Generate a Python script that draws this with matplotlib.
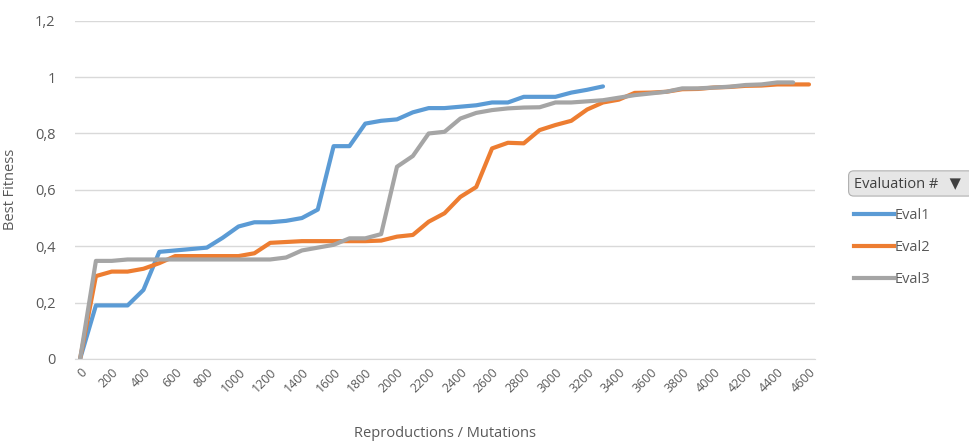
import matplotlib.pyplot as plt
from matplotlib.lines import Line2D

# x categories: 0..4600 step 100
steps = list(range(0, 4700, 100))
tick_labels = [str(s) for s in steps[::2]]

eval1 = [0, 0.19, 0.19, 0.19, 0.245, 0.38, 0.385, 0.39, 0.395, 0.43, 0.47, 0.485,
         0.485, 0.49, 0.50, 0.53, 0.755, 0.755, 0.835, 0.845, 0.85, 0.875, 0.89,
         0.89, 0.895, 0.90, 0.91, 0.91, 0.93, 0.93, 0.93, 0.945, 0.955, 0.967]
eval2 = [0, 0.294, 0.31, 0.31, 0.32, 0.34, 0.365, 0.365, 0.365, 0.365, 0.365,
         0.375, 0.412, 0.415, 0.418, 0.418, 0.418, 0.418, 0.418, 0.42, 0.434,
         0.44, 0.487, 0.517, 0.575, 0.61, 0.747, 0.767, 0.765, 0.812, 0.83,
         0.845, 0.885, 0.91, 0.92, 0.944, 0.945, 0.948, 0.957, 0.958, 0.963,
         0.965, 0.969, 0.97, 0.974, 0.974, 0.974]
eval3 = [0, 0.348, 0.348, 0.353, 0.353, 0.353, 0.353, 0.353, 0.353, 0.353, 0.353,
         0.353, 0.353, 0.36, 0.385, 0.395, 0.405, 0.428, 0.428, 0.443, 0.682,
         0.72, 0.80, 0.806, 0.853, 0.873, 0.883, 0.889, 0.892, 0.893, 0.91,
         0.91, 0.914, 0.918, 0.927, 0.936, 0.942, 0.948, 0.96, 0.96, 0.963,
         0.966, 0.972, 0.974, 0.981, 0.981]

series = [("Eval1", eval1, "#5B9BD5"),
          ("Eval2", eval2, "#ED7D31"),
          ("Eval3", eval3, "#A5A5A5")]

plt.rcParams['font.family'] = ['Open Sans', 'DejaVu Sans']
txt = "#595959"

fig = plt.figure(figsize=(9.69, 4.41), dpi=100)
ax = fig.add_axes([0.0774, 0.186, 0.764, 0.767])

for name, vals, col in series:
    ax.plot(range(len(vals)), vals, color=col, lw=3, label=name,
            solid_joinstyle='round', solid_capstyle='round')

ax.set_xlim(-0.32, 46.4)
ax.set_ylim(0, 1.2)
ax.set_yticks([0, 0.2, 0.4, 0.6, 0.8, 1.0, 1.2])
ax.set_yticklabels(["0", "0,2", "0,4", "0,6", "0,8", "1", "1,2"])
ax.set_xticks(range(0, len(steps), 2))
ax.set_xticklabels(tick_labels, rotation=45, ha='right', va='top',
                   rotation_mode='anchor', fontsize=9)
ax.tick_params(length=0, colors=txt)
ax.tick_params(axis='y', pad=14, labelsize=10.5)
ax.tick_params(axis='x', pad=5)
ax.grid(axis='y', color='#d9d9d9', lw=1)
ax.set_axisbelow(True)
for s in ['top', 'right', 'left']:
    ax.spines[s].set_visible(False)
ax.spines['bottom'].set_color('#d9d9d9')

ax.set_ylabel("Best Fitness", color=txt, fontsize=10.5, labelpad=12)
fig.text(0.459, 0.018, "Reproductions / Mutations", color=txt, fontsize=10.5,
         ha='center', va='center')

# legend with filter-button style title
fig.text(0.881, 0.584, "Evaluation #   \u25BC  ", color='#404040', fontsize=10.5,
         ha='left', va='center',
         bbox=dict(boxstyle='round,pad=0.35', fc='#e6e6e6', ec='#b0b0b0', lw=0.8))
handles = [Line2D([0], [0], color=c, lw=3) for _, _, c in series]
fig.legend(handles, [n for n, _, _ in series], loc='upper left',
           bbox_to_anchor=(0.868, 0.557), frameon=False, fontsize=10.5,
           labelcolor=txt, handlelength=2.7, handletextpad=0.1,
           labelspacing=1.15)

fig.savefig("out.png", dpi=100)
